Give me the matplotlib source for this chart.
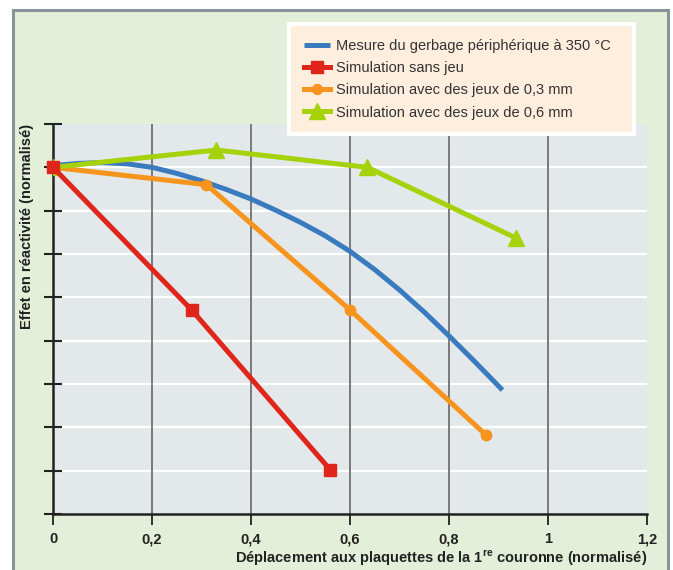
import matplotlib
matplotlib.use('Agg')
import matplotlib.pyplot as plt
from matplotlib.patches import Rectangle

plt.rcParams['font.family'] = ['Liberation Sans', 'DejaVu Sans']
plt.rcParams['mathtext.fontset'] = 'custom'
plt.rcParams['mathtext.rm'] = 'Liberation Sans'
plt.rcParams['mathtext.bf'] = 'Liberation Sans:bold'

# Data (y axis is unlabelled, ticks 0..9)
x_mesure = [0, 0.05, 0.1, 0.15, 0.2, 0.25, 0.3, 0.35, 0.4, 0.45, 0.5,
            0.55, 0.6, 0.65, 0.7, 0.75, 0.8, 0.85, 0.908]
y_mesure = [8.04, 8.09, 8.11, 8.08, 8.0, 7.86, 7.69, 7.49, 7.27, 7.01, 6.73,
            6.42, 6.06, 5.64, 5.17, 4.66, 4.11, 3.54, 2.86]

x_sans_jeu = [0, 0.28, 0.56]
y_sans_jeu = [8.0, 4.71, 1.02]

x_jeu03 = [0, 0.31, 0.6, 0.875]
y_jeu03 = [8.0, 7.6, 4.71, 1.82]

x_jeu06 = [0, 0.33, 0.635, 0.935]
y_jeu06 = [8.0, 8.4, 8.0, 6.37]

x_ticks = [0, 0.2, 0.4, 0.6, 0.8, 1, 1.2]
x_ticklabels = ['0', '0,2', '0,4', '0,6', '0,8', '1', '1,2']

labels = ['Mesure du gerbage périphérique à 350 °C',
          'Simulation sans jeu',
          'Simulation avec des jeux de 0,3 mm',
          'Simulation avec des jeux de 0,6 mm']

fig = plt.figure(figsize=(6.73, 5.70), dpi=100)
fig.patch.set_facecolor('white')

# outer green panel with grey border
panel = Rectangle((13 / 673, -0.01), 655 / 673, 1 - 10 / 570 + 0.01,
                  transform=fig.transFigure, facecolor='#e3efd8',
                  edgecolor='#8a9399', linewidth=2.2, zorder=-10)
fig.patches.append(panel)

ax = fig.add_axes([53 / 673, 1 - 514 / 570, 594 / 673, 390 / 570])
ax.set_facecolor('#e3e8ea')

ax.set_xlim(0, 1.2)
ax.set_ylim(0, 9)

for yv in range(1, 9):
    ax.axhline(yv, color='white', linewidth=1.6, zorder=1)
for xv in x_ticks[1:-1]:
    ax.axvline(xv, color='#6f7173', linewidth=1.3, zorder=1)

lw = 3.6
ax.plot(x_mesure, y_mesure, color='#3a7bbf', linewidth=lw, zorder=3,
        label=labels[0], solid_capstyle='butt', solid_joinstyle='round')
ax.plot(x_sans_jeu, y_sans_jeu, color='#e0251b', linewidth=lw, marker='s',
        markersize=8.5, zorder=4, label=labels[1], clip_on=False)
ax.plot(x_jeu03, y_jeu03, color='#f7941d', linewidth=lw, marker='o',
        markersize=7.5, zorder=3, label=labels[2])
ax.plot(x_jeu06, y_jeu06, color='#a5d20a', linewidth=lw, marker='^',
        markersize=11.5, zorder=3, label=labels[3])

ax.set_xticks(x_ticks)
ax.set_xticklabels(x_ticklabels, fontweight='bold', fontsize=10.5)
ax.set_yticks(range(0, 10))
ax.set_yticklabels([])
ax.tick_params(axis='y', direction='inout', length=13, width=1.5, color='#222222')
ax.tick_params(axis='x', direction='out', length=8, width=1.3, color='#222222',
               pad=5, labelcolor='#222222')

for side in ['top', 'right']:
    ax.spines[side].set_visible(False)
for side in ['left', 'bottom']:
    ax.spines[side].set_color('#222222')
    ax.spines[side].set_linewidth(1.8)

fig.text(647 / 673, 1 - 558 / 570,
         r'Déplacement aux plaquettes de la 1$^{\mathbf{re}}$ couronne (normalisé)',
         ha='right', va='center', fontweight='bold', fontsize=10.5, color='#222222')
fig.text(27 / 673, 1 - 226 / 570, 'Effet en réactivité (normalisé)',
         rotation=90, ha='center', va='center', fontweight='bold',
         fontsize=10.5, color='#222222')

handles, labs = ax.get_legend_handles_labels()
leg = fig.legend(handles, labs, loc='upper left',
                 bbox_to_anchor=(289 / 673, 1 - 25 / 570, 345 / 673, 0.001),
                 mode='expand', fontsize=10.5, frameon=True, fancybox=False,
                 handlelength=1.8, handletextpad=0.45, labelspacing=0.56,
                 borderpad=1.0, borderaxespad=0, markerscale=0.95)
leg.get_frame().set_facecolor('#fdeedd')
leg.get_frame().set_edgecolor('white')
leg.get_frame().set_linewidth(3)
leg.get_frame().set_alpha(1)
for t in leg.get_texts():
    t.set_color('#333333')

fig.savefig('out.png', dpi=100)
